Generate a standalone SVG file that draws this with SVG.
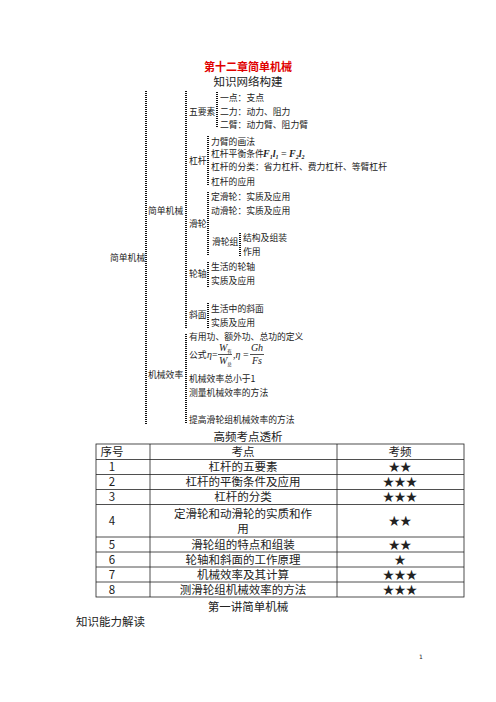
<svg xmlns="http://www.w3.org/2000/svg" width="496" height="702" viewBox="0 0 496 702">
<style>
.t{font-family:"Noto Sans CJK SC","Noto Sans",sans-serif;font-size:8.8px;fill:#222}
.h{font-family:"Noto Sans CJK SC","Noto Sans",sans-serif;font-size:11.5px;fill:#222}
.c{text-anchor:middle}
.m{font-family:"Liberation Serif",serif;font-style:italic;font-size:10px;fill:#222}
.b{stroke:#111;stroke-width:2;stroke-dasharray:1 1;fill:none}
.g{stroke:#222;stroke-width:0.8;fill:none}
</style>
<rect width="496" height="702" fill="#fff"/>
<text x="248" y="71" class="c" style="font-family:'Noto Sans CJK SC',sans-serif;font-size:11px;font-weight:bold;fill:#e00000">第十二章简单机械</text>
<text x="248" y="86" class="h c">知识网络构建</text>

<g id="braces">
<line class="b" x1="146" y1="91" x2="146" y2="425"/>
<line class="b" x1="186" y1="91" x2="186" y2="328"/>
<line class="b" x1="186" y1="334" x2="186" y2="424"/>
<line class="b" x1="217" y1="92" x2="217" y2="128"/>
<line class="b" x1="208" y1="136" x2="208" y2="186"/>
<line class="b" x1="208" y1="192" x2="208" y2="256"/>
<line class="b" x1="240" y1="233" x2="240" y2="257"/>
<line class="b" x1="208" y1="262" x2="208" y2="287"/>
<line class="b" x1="208" y1="303" x2="208" y2="328"/>
</g>

<g id="root"><text x="110" y="261" class="t">简单机械</text></g>
<g id="jdjx"><text x="148" y="214" class="t">简单机械</text></g>
<g id="jxxl"><text x="148" y="378" class="t">机械效率</text></g>

<g id="wys">
<text x="189" y="115" class="t">五要素</text>
<text x="220" y="101" class="t">一点：支点</text>
<text x="220" y="115" class="t">二力：动力、阻力</text>
<text x="220" y="128" class="t">二臂：动力臂、阻力臂</text>
</g>

<g id="ganggan">
<text x="189" y="164" class="t">杠杆</text>
<text x="211" y="145" class="t">力臂的画法</text>
<text x="211" y="157" class="t">杠杆平衡条件</text>
<text x="263" y="157" class="m" style="font-weight:bold">F<tspan style="font-size:6px" dy="2">1</tspan><tspan dy="-2">l</tspan><tspan style="font-size:6px" dy="2">1</tspan><tspan dy="-2" style="font-weight:normal;font-style:normal"> = </tspan>F<tspan style="font-size:6px" dy="2">2</tspan><tspan dy="-2">l</tspan><tspan style="font-size:6px" dy="2">2</tspan></text>
<text x="211" y="170" class="t">杠杆的分类：省力杠杆、费力杠杆、等臂杠杆</text>
<text x="211" y="185" class="t">杠杆的应用</text>
</g>

<g id="hualun">
<text x="189" y="227" class="t">滑轮</text>
<text x="211" y="200" class="t">定滑轮：实质及应用</text>
<text x="211" y="214" class="t">动滑轮：实质及应用</text>
<text x="212" y="245" class="t">滑轮组</text>
<text x="243" y="241" class="t">结构及组装</text>
<text x="243" y="255" class="t">作用</text>
</g>

<g id="lunzhou">
<text x="189" y="277" class="t">轮轴</text>
<text x="211" y="270" class="t">生活的轮轴</text>
<text x="211" y="284" class="t">实质及应用</text>
</g>

<g id="xiemian">
<text x="189" y="318" class="t">斜面</text>
<text x="211" y="312" class="t">生活中的斜面</text>
<text x="211" y="326" class="t">实质及应用</text>
</g>

<g id="xiaolv">
<text x="189" y="340" class="t">有用功、额外功、总功的定义</text>
<text x="189" y="358" class="t">公式</text>
<text x="207" y="358" class="m">η<tspan style="font-style:normal">=</tspan></text>
<text x="219" y="351" class="m">W<tspan style="font-size:4.5px;font-style:normal;font-family:'Noto Sans CJK SC',sans-serif" dy="1.5">有</tspan></text>
<line class="g" x1="218" y1="354.5" x2="232" y2="354.5"/>
<text x="219" y="364" class="m">W<tspan style="font-size:4.5px;font-style:normal;font-family:'Noto Sans CJK SC',sans-serif" dy="1.5">总</tspan></text>
<text x="233" y="358" class="m"><tspan style="font-style:normal">,</tspan>η <tspan style="font-style:normal">=</tspan></text>
<text x="257" y="351" class="m c">Gh</text>
<line class="g" x1="250" y1="354.5" x2="264" y2="354.5"/>
<text x="257" y="364" class="m c">Fs</text>
<text x="189" y="382" class="t">机械效率总小于1</text>
<text x="189" y="396" class="t">测量机械效率的方法</text>
<text x="189" y="423" class="t">提高滑轮组机械效率的方法</text>
</g>

<text x="248" y="441" class="h c">高频考点透析</text>

<g id="table">
<rect class="g" x="96" y="444" width="368" height="153"/>
<line class="g" x1="150" y1="444" x2="150" y2="597"/>
<line class="g" x1="337" y1="444" x2="337" y2="597"/>
<line class="g" x1="96" y1="459.5" x2="464" y2="459.5"/>
<line class="g" x1="96" y1="474.5" x2="464" y2="474.5"/>
<line class="g" x1="96" y1="489.5" x2="464" y2="489.5"/>
<line class="g" x1="96" y1="504.5" x2="464" y2="504.5"/>
<line class="g" x1="96" y1="537" x2="464" y2="537"/>
<line class="g" x1="96" y1="552" x2="464" y2="552"/>
<line class="g" x1="96" y1="567" x2="464" y2="567"/>
<line class="g" x1="96" y1="582" x2="464" y2="582"/>
<g class="h c">
<text x="112" y="456">序号</text><text x="243" y="456">考点</text><text x="400" y="456">考频</text>
<text x="112" y="471">1</text><text x="243" y="471">杠杆的五要素</text><text x="400" y="471">★★</text>
<text x="112" y="486">2</text><text x="243" y="486">杠杆的平衡条件及应用</text><text x="400" y="486">★★★</text>
<text x="112" y="501">3</text><text x="243" y="501">杠杆的分类</text><text x="400" y="501">★★★</text>
<text x="112" y="525">4</text><text x="243" y="518">定滑轮和动滑轮的实质和作</text><text x="243" y="533">用</text><text x="400" y="525">★★</text>
<text x="112" y="549">5</text><text x="243" y="549">滑轮组的特点和组装</text><text x="400" y="549">★★</text>
<text x="112" y="564">6</text><text x="243" y="564">轮轴和斜面的工作原理</text><text x="400" y="564">★</text>
<text x="112" y="579">7</text><text x="243" y="579">机械效率及其计算</text><text x="400" y="579">★★★</text>
<text x="112" y="594">8</text><text x="243" y="594">测滑轮组机械效率的方法</text><text x="400" y="594">★★★</text>
</g>
</g>

<text x="248" y="611" class="h c">第一讲简单机械</text>
<text x="76" y="626" class="h">知识能力解读</text>
<text x="419" y="659" style="font-family:'DejaVu Sans Mono',monospace;font-size:6px;fill:#222">1</text>
</svg>
